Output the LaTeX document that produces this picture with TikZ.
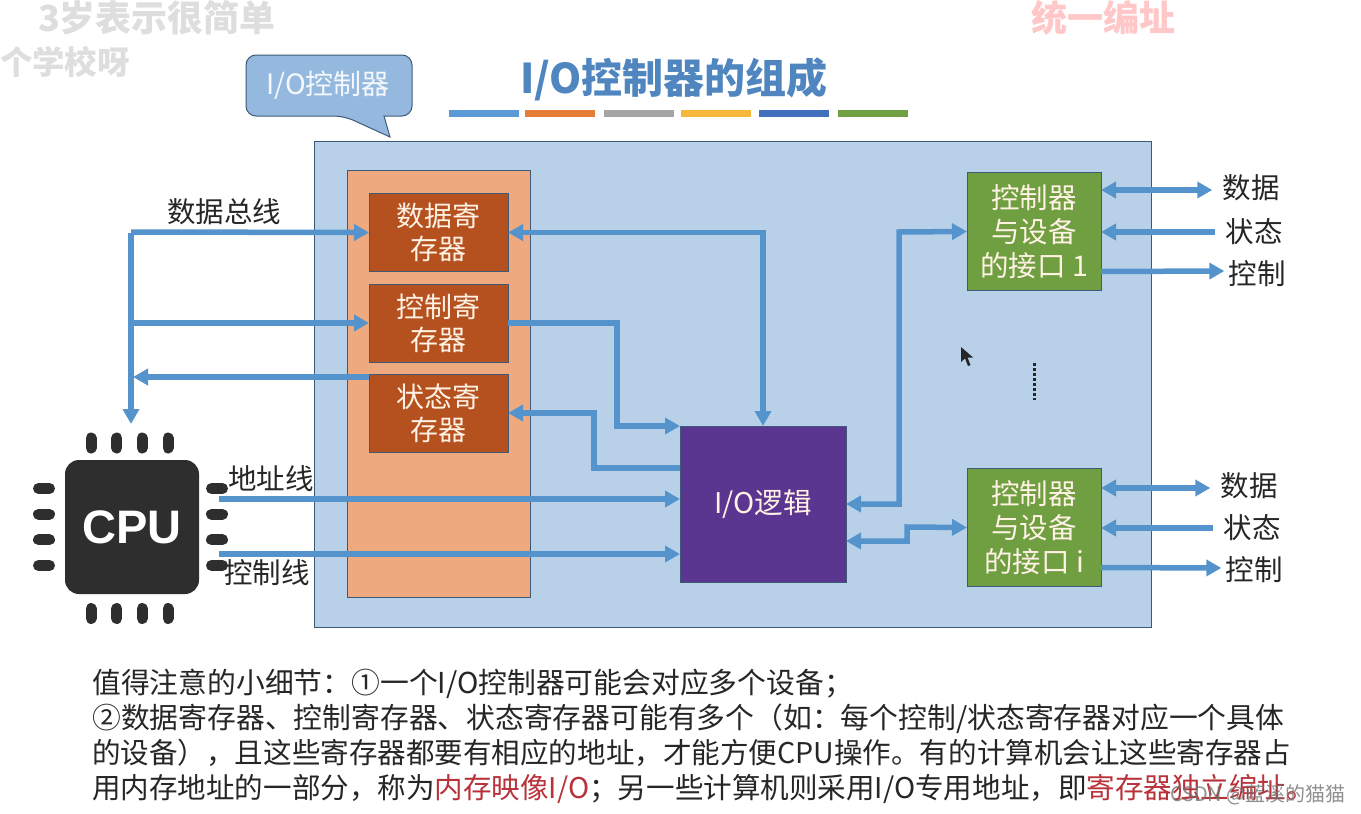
\documentclass[tikz,border=0pt]{standalone}
\usepackage{fontspec}
\setmainfont{Noto Sans CJK SC}
\newfontfamily\cpufont{Liberation Sans}
\usetikzlibrary{calc}
\usetikzlibrary{arrows.meta}
\definecolor{panelblue}{HTML}{B8D1E9}
\definecolor{edgeblue}{HTML}{3F5A78}
\definecolor{wireblue}{HTML}{5593CC}
\definecolor{calloutblue}{HTML}{95B9DE}
\definecolor{titleblue}{HTML}{4F86C0}
\definecolor{orangeback}{HTML}{EEA97F}
\definecolor{regbrown}{HTML}{B5511F}
\definecolor{logicpurple}{HTML}{5B3690}
\definecolor{portgreen}{HTML}{6F9F40}
\definecolor{notered}{HTML}{B8323A}
\definecolor{chipgray}{HTML}{2E2E2E}
\newcommand{\fs}[2]{\fontsize{#1}{#2}\selectfont}
\tikzset{
  boxbase/.style={draw=edgeblue, line width=.8pt, inner sep=0pt, outer sep=0pt, align=center, text=white!90!orange},
  regbox/.style={boxbase, fill=regbrown, minimum width=139pt, minimum height=78pt, font=\fs{28}{33}},
  portbox/.style={boxbase, fill=portgreen, minimum width=134pt, minimum height=118pt, font=\fs{28.5}{34}},
  wire/.style={wireblue, line width=5.5pt, >={Triangle[length=15pt,width=16pt]}},
  wirelabel/.style={font=\fs{28.5}{30}, text=black!85, inner sep=0pt},
  barmark/.style={line width=7pt},
  ghost/.style={font=\bfseries\fs{36}{36}, inner sep=0pt},
  chippin/.style={chipgray, line width=11pt, line cap=round}
}
\begin{document}
\begin{tikzpicture}[x=1pt, y=-1pt]
\useasboundingbox (0,0) rectangle (1361,814);

\node[ghost, text=black!13] (ghosta) at (157,18) {3岁表示很简单};
\node[ghost, text=black!13, font=\bfseries\fs{32.5}{33}] (ghostb) at (65,62) {个学校呀};
\node[ghost, text=red!22] (ghostc) at (1103,18) {统一编址};

\node[font=\bfseries\fs{41}{41}, text=titleblue, inner sep=0pt] (title) at (674,79) {I/O控制器的组成};
\foreach \xa/\cc [evaluate=\xa as \xb using \xa+70] in {449/5B9BD5, 525/E57E38, 604/A5A5A5, 681/F7B73A, 759/4170BC, 838/70A044}{
  \definecolor{barcolor}{HTML}{\cc}
  \draw[barmark, barcolor] (\xa,113.5)--(\xb,113.5);
}

\node[boxbase, fill=panelblue, minimum width=837pt, minimum height=486pt] (panel) at (732.5,384) {};
\node[boxbase, fill=orangeback, minimum width=183pt, minimum height=427pt] (regcol) at (438.5,383.5) {};

\draw[edgeblue, line width=1pt, fill=calloutblue] (344,116)--(390,137)--(384,116)[rounded corners=10pt]--(412,116)--(412,55)--(246,55)--(246,116)--cycle;
\node[font=\fs{28}{28}, text=white!90!calloutblue, inner sep=0pt] (calloutlabel) at (328,85) {I/O控制器};

\node[regbox] (regdata) at (438.5,232.5) {数据寄\\存器};
\node[regbox] (regctrl) at (438.5,323) {控制寄\\存器};
\node[regbox] (regstat) at (438.5,413) {状态寄\\存器};
\node[boxbase, fill=logicpurple, minimum width=166pt, minimum height=156pt, font=\fs{28.5}{30}] (logic) at (763,504) {I/O逻辑};
\node[portbox] (portone) at (1034,231.5) {控制器\\与设备\\的接口 1};
\node[portbox] (porti) at (1034,527.5) {控制器\\与设备\\的接口 i};

\coordinate (busturn) at (131,232);
\coordinate (chiptop) at (131,424);
\coordinate (addrstart) at (219,499);
\coordinate (ctrlstart) at (219,554);

\draw[wire, ->] (regdata.west-|busturn)--(chiptop);
\draw[wire, ->] (busturn)--(regdata.west);
\draw[wire, ->] (busturn|-regctrl.west)--(regctrl.west);
\draw[wire, ->] ([yshift=36pt]regstat.west)--++(-236,0);
\draw[wire, <->] (regdata.east)-|(logic.north);
\draw[wire, ->] (regctrl.east)-|(617,426)--(logic.north west);
\draw[wire, ->] ([yshift=36pt]logic.west)--++(-86,0)|-(regstat.east);
\draw[wire, ->] (addrstart)--(logic.west|-addrstart);
\draw[wire, ->] (ctrlstart)--(logic.west|-ctrlstart);
\draw[wire, <->] (logic.east)-|(899,232)--(portone.west);
\draw[wire, <->] ([yshift=-37pt]logic.east)-|(907,527)--(porti.west);

\node[wirelabel] (busname) at (224,212) {数据总线};
\node[wirelabel] (addrname) at (271,479) {地址线};
\node[wirelabel] (ctrlname) at (267,573) {控制线};

\node[wirelabel] (dataone) at (1251,188) {数据};
\node[wirelabel] (statone) at (1254,232) {状态};
\node[wirelabel] (ctrlone) at (1257,274) {控制};
\node[wirelabel] (datai) at (1249,486) {数据};
\node[wirelabel] (stati) at (1252,528) {状态};
\node[wirelabel] (ctrli) at (1254,570) {控制};

\draw[wire, <->] (portone.east|-0,190)--([xshift=-10pt]dataone.west|-0,190);
\draw[wire, ->] ([xshift=-10pt]statone.west)--(portone.east|-statone);
\draw[wire, ->] ([yshift=-40pt]portone.east)--([xshift=-4pt]ctrlone.west|-0,271);
\draw[wire, <->] (porti.east|-0,488)--([xshift=-10pt]datai.west|-0,488);
\draw[wire, ->] ([xshift=-10pt]stati.west)--(porti.east|-stati);
\draw[wire, ->] ([yshift=-40pt]porti.east)--([xshift=-4pt]ctrli.west|-0,568);

\draw[black!85, line width=3pt, dash pattern=on 2.5pt off 2.5pt] (1034,363)--(1034,400);
\fill[black!85] (961,347)--(961,362)--(965,358.5)--(968,366)--(970.5,365)--(967.5,357.5)--(973,357.5)--cycle;

\node[fill=chipgray, rounded corners=14pt, minimum width=134pt, minimum height=134pt, inner sep=0pt, font=\cpufont\bfseries\fs{47}{47}, text=white] (chip) at (132,527) {CPU};
\foreach \p in {-38.5,-12.8,12.8,38.5}{
  \draw[chippin] ($(chip.center)+(\p-2.5,-89)$)--++(0,10);
  \draw[chippin] ($(chip.center)+(\p-2.5,81.5)$)--++(0,10);
  \draw[chippin] ($(chip.center)+(-93.5,\p)$)--++(11,0);
  \draw[chippin] ($(chip.center)+(79.5,\p)$)--++(11,0);
}

\node[anchor=north west, align=left, inner sep=0pt, text=black!85, font=\fs{28.8}{35}] (notes) at (92,669) {%
值得注意的小细节：①一个I/O控制器可能会对应多个设备；\\
②数据寄存器、控制寄存器、状态寄存器可能有多个（如：每个控制/状态寄存器对应一个具体\\
\fs{28.55}{35}的设备），且这些寄存器都要有相应的地址，才能方便CPU操作。有的计算机会让这些寄存器占\\
\fs{28.55}{35}用内存地址的一部分，称为\textcolor{notered}{内存映像I/O}；另一些计算机则采用I/O专用地址，即\textcolor{notered}{寄存器独立编址。}};

\node[font=\fs{20}{20}, text=black!55, opacity=.8, inner sep=0pt, anchor=east] (mark) at (1346,795) {CSDN @蓝溪的猫猫};

\end{tikzpicture}
\end{document}
